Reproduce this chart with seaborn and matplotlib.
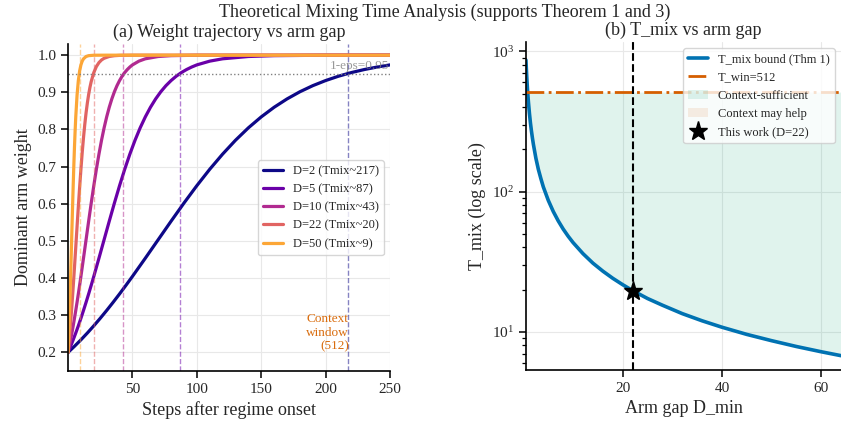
import numpy as np
import matplotlib
matplotlib.use("Agg")
import matplotlib.pyplot as plt
import seaborn as sns

# ---------------- data ----------------
# Panel (a): dominant-arm weight trajectories
gaps = [2, 5, 10, 22, 50]
tmix_labels = [217, 87, 43, 20, 9]

t_d2 = [0, 5, 10, 15, 20, 25, 30, 35, 40, 45, 50,
        60, 70, 80, 90, 100, 110, 120, 130, 140, 150,
        160, 170, 180, 190, 200, 210, 220, 230, 240, 250]
w_d2 = [0.2, 0.2165, 0.2339, 0.2523, 0.2716, 0.2919, 0.3130, 0.3349, 0.3575, 0.3808, 0.4046,
        0.4536, 0.5034, 0.5532, 0.6020, 0.6488, 0.6929, 0.7337, 0.7710, 0.8044, 0.8339,
        0.8598, 0.8822, 0.9015, 0.9179, 0.9317, 0.9434, 0.9532, 0.9613, 0.9681, 0.9738]

t_d5 = [0, 2, 4, 6, 8, 10, 12, 14, 16, 18, 20,
        24, 28, 32, 36, 40, 44, 48, 52, 56, 60,
        64, 68, 72, 76, 80, 84, 88, 92, 96, 100,
        110, 120, 140, 160, 200, 250]
w_d5 = [0.2, 0.2165, 0.2339, 0.2523, 0.2716, 0.2919, 0.3130, 0.3349, 0.3575, 0.3808, 0.4046,
        0.4536, 0.5034, 0.5532, 0.6020, 0.6488, 0.6929, 0.7337, 0.7710, 0.8044, 0.8339,
        0.8598, 0.8822, 0.9015, 0.9179, 0.9317, 0.9434, 0.9532, 0.9613, 0.9681, 0.9738,
        0.9839, 0.9902, 0.9964, 0.99866, 0.99982, 0.99998]

t_d10 = [0, 1, 2, 3, 4, 5, 6, 7, 8, 9, 10,
         12, 14, 16, 18, 20, 22, 24, 26, 28, 30,
         32, 34, 36, 38, 40, 42, 44, 46, 48, 50,
         55, 60, 70, 80, 100, 150, 250]
w_d10 = [0.2, 0.2165, 0.2339, 0.2523, 0.2716, 0.2919, 0.3130, 0.3349, 0.3575, 0.3808, 0.4046,
         0.4536, 0.5034, 0.5532, 0.6020, 0.6488, 0.6929, 0.7337, 0.7710, 0.8044, 0.8339,
         0.8598, 0.8822, 0.9015, 0.9179, 0.9317, 0.9434, 0.9532, 0.9613, 0.9681, 0.9738,
         0.9839, 0.9902, 0.9964, 0.99866, 0.99982, 1.0, 1.0]

t_d22 = [0, 1, 2, 3, 4, 5, 6, 7, 8, 9, 10, 11, 12, 13, 14, 15, 16, 17, 18,
         20, 22, 24, 26, 28, 32, 36, 40, 50, 250]
w_d22 = [0.2, 0.2375, 0.2796, 0.3260, 0.3761, 0.4289, 0.4834, 0.5383, 0.5924, 0.6442,
         0.6929, 0.7376, 0.7779, 0.8136, 0.8447, 0.8714, 0.8941, 0.9132, 0.9291,
         0.9532, 0.9693, 0.9800, 0.9871, 0.9916, 0.9965, 0.99855, 0.9994, 0.99993, 1.0]

t_d50 = [0, 0.5, 1, 1.5, 2, 2.5, 3, 3.5, 4, 4.5, 5, 5.5, 6, 7, 8, 9, 10, 11, 12,
         14, 16, 20, 30, 250]
w_d50 = [0.2, 0.2430, 0.2919, 0.3461, 0.4046, 0.4660, 0.5284, 0.5899, 0.6488, 0.7034,
         0.7528, 0.7964, 0.8339, 0.8922, 0.9317, 0.9575, 0.9738, 0.9839, 0.9902,
         0.9964, 0.99866, 0.99982, 1.0, 1.0]

steps = [t_d2, t_d5, t_d10, t_d22, t_d50]
weights = [w_d2, w_d5, w_d10, w_d22, w_d50]
eps_level = 0.95

# Panel (b): mixing-time bound vs arm gap
d_min = [0.5, 0.55, 0.6, 0.65, 0.7, 0.8, 0.9, 1.0, 1.2, 1.4, 1.6, 1.8, 2, 2.5, 3, 3.5,
         4, 5, 6, 7, 8, 9, 10, 12, 14, 16, 18, 20, 22, 25, 28, 32, 36, 40, 45,
         50, 55, 60, 64]
t_mix = [866, 787, 722, 666, 619, 541, 481, 433, 361, 309, 271, 241, 217, 173, 144, 124,
         108, 86.6, 72.2, 61.9, 54.1, 48.1, 43.3, 36.1, 30.9, 27.1, 24.1, 21.7, 19.7, 17.3,
         15.5, 13.5, 12.0, 10.8, 9.6, 8.66, 7.87, 7.22, 6.77]
t_win = 512
this_work_d = 22
this_work_t = 19.7

# ---------------- style ----------------
sns.set_style("whitegrid")
plt.rcParams["font.family"] = ["Liberation Serif", "DejaVu Serif"]
plt.rcParams["mathtext.fontset"] = "stix"
plt.rcParams["axes.edgecolor"] = "black"
plt.rcParams["grid.color"] = "#e8e8e8"
plt.rcParams["grid.linewidth"] = 0.8

fig = plt.figure(figsize=(8.41, 4.29), dpi=100)
ax1 = fig.add_axes([0.0809, 0.1352, 0.3829, 0.7622])
ax2 = fig.add_axes([0.6254, 0.1375, 0.3746, 0.7646])

colors = plt.cm.plasma(np.linspace(0, 0.8, 5))

# ---------------- panel (a) ----------------
for d, tl, ts, ws, c in zip(gaps, tmix_labels, steps, weights, colors):
    sns.lineplot(x=ts, y=ws, ax=ax1, color=c, lw=2.3,
                 label=f"D={d} (Tmix~{tl})", sort=False, estimator=None)
    ax1.axvline(tl, color=c, ls="--", lw=1.0, alpha=0.5)
ax1.axhline(eps_level, color="gray", ls=":", lw=1.0)
ax1.text(249, eps_level + 0.004, "1-eps=0.95", color="gray", alpha=0.8,
         fontsize=9.5, ha="right", va="bottom")
ax1.text(218, 0.2, "Context\nwindow\n(512)", color="#d96c0d", fontsize=9.5,
         ha="right", va="bottom", multialignment="right")
ax1.set_xlim(0, 250)
ax1.set_ylim(0.15, 1.03)
ax1.set_xticks([50, 100, 150, 200, 250])
ax1.set_yticks([0.2, 0.3, 0.4, 0.5, 0.6, 0.7, 0.8, 0.9, 1.0])
ax1.set_xlabel("Steps after regime onset", fontsize=13)
ax1.set_ylabel("Dominant arm weight", fontsize=13)
ax1.set_title("(a) Weight trajectory vs arm gap", fontsize=13, pad=5)
ax1.legend(loc="center right", fontsize=9, handlelength=1.6, framealpha=0.8)

# ---------------- panel (b) ----------------
d_arr = np.array(d_min)
t_arr = np.array(t_mix)
sns.lineplot(x=d_min, y=t_mix, ax=ax2, color="#0072B2", lw=2.6,
             label="T_mix bound (Thm 1)", sort=False, estimator=None)
ax2.axhline(t_win, color="#D55E00", ls="-.", lw=2.0, label=f"T_win={t_win}")
ax2.fill_between(d_arr, t_arr, t_win, where=t_arr <= t_win, interpolate=True,
                 color="#009E73", alpha=0.12, lw=0, label="Context-sufficient")
ax2.fill_between(d_arr, t_arr, t_win, where=t_arr > t_win, interpolate=True,
                 color="#D55E00", alpha=0.1, lw=0, label="Context may help")
ax2.plot([this_work_d], [this_work_t], ls="", marker="*", ms=14, color="black",
         label="This work (D=22)", zorder=5)
ax2.axvline(this_work_d, color="black", ls="--", lw=1.5)
ax2.set_yscale("log")
ax2.set_xlim(0.5, 64)
ax2.set_ylim(5.35, 1165)
ax2.set_xticks([20, 40, 60])
ax2.set_xlabel("Arm gap D_min", fontsize=13)
ax2.set_ylabel("T_mix (log scale)", fontsize=13)
ax2.set_title("(b) T_mix vs arm gap", fontsize=13, pad=5)
ax2.legend(loc="upper right", fontsize=9, handlelength=1.6, framealpha=0.8)
ax2.grid(True, which="major")
ax2.grid(False, which="minor")

for ax in (ax1, ax2):
    sns.despine(ax=ax)
    ax.spines["left"].set_linewidth(1.2)
    ax.spines["bottom"].set_linewidth(1.2)
    ax.tick_params(axis="both", which="major", direction="out", length=5,
                   width=1.1, labelsize=11, left=True, bottom=True, color="black")
    ax.tick_params(axis="y", which="minor", direction="out", length=3,
                   width=0.9, left=True, color="black")

fig.suptitle("Theoretical Mixing Time Analysis (supports Theorem 1 and 3)",
             fontsize=13, x=0.529, y=0.972, va="center")

fig.savefig("out.png", dpi=100)
